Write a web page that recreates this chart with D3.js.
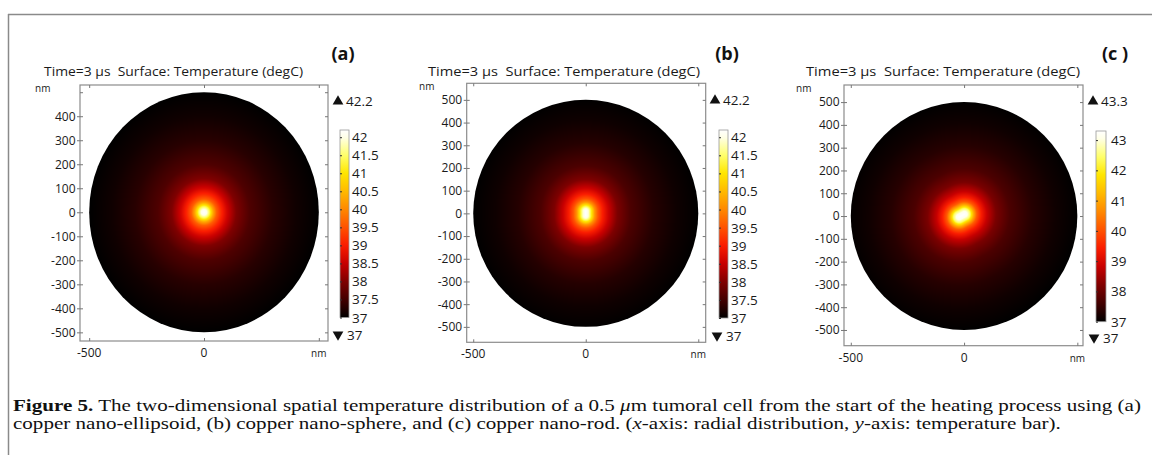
<!DOCTYPE html>
<html>
<head>
<meta charset="UTF-8">
<script src="https://d3js.org/d3.v7.min.js"></script>
<style>
  body { margin: 0; background: #fff; }
  svg text { font-family: "Open Sans", sans-serif; fill: #1a1a1a; }
  .tick { font-size: 12px; }
  .bar { font-size: 13.5px; }
  .small { font-size: 10px; }
  .panel { font-weight: bold; font-size: 18px; fill: #111 !important; }
  .cap { font-family: "Liberation Serif", serif !important; font-size: 16px; fill: #111 !important; }
</style>
</head>
<body>
<svg id="fig" width="1152" height="455"></svg>
<script>
// ---- data ----
const panelNames = ['(a)', '(b)', '(c )'];
const timeLabel = 'Time=3 µs  Surface: Temperature (degC)';
const maxTemps = [42.2, 42.2, 43.3];
const minTemps = [37, 37, 37];
const barTicksAB = [37, 37.5, 38, 38.5, 39, 39.5, 40, 40.5, 41, 41.5, 42];
const barTicksC = [37, 38, 39, 40, 41, 42, 43];
const yTicksA = [500, 400, 300, 200, 100, 0, -100, -200, -300, -400, -500];
const yLabelsA = [400, 300, 200, 100, 0, -100, -200, -300, -400, -500];
const yTicksBC = [500, 400, 300, 200, 100, 0, -100, -200, -300, -400, -500];
const xTicks = [-500, 0, 500];
const cellRadius = 500; // nm

// temperature (degC) against distance (nm) from the heat source
const profileDist = [0, 12, 25, 40, 55, 75, 100, 140, 200, 300, 400, 500];
const profileA = [42.2, 42.0, 41.3, 40.3, 39.6, 39.1, 38.6, 38.0, 37.6, 37.3, 37.12, 37.0];
const profileB = [42.2, 41.9, 41.1, 40.1, 39.5, 39.0, 38.55, 37.98, 37.58, 37.28, 37.11, 37.0];
const profileC = [43.3, 43.1, 42.4, 41.1, 40.1, 39.4, 38.8, 38.15, 37.7, 37.35, 37.14, 37.0];
// heat source: centre (nm), half length (nm), angle (deg)
const sourceX = [0, 0, -10];
const sourceY = [0, 0, 2];
const sourceHalf = [0, 10, 13];
const sourceAngle = [0, 90, 28];

// colour map of the colour bar (fraction of range -> colour)
const cmapStops = [0, 0.096, 0.19, 0.29, 0.385, 0.48, 0.58, 0.67, 0.77, 0.865, 0.96, 1];
const cmapColors = ['#000000', '#420000', '#7e0000', '#c80000', '#fa1c00', '#ff5200', '#ff8a00',
                    '#ffb800', '#ffe600', '#ffff6a', '#ffffe6', '#ffffff'];

// ---- layout of each panel (pixels) ----
const layout = [
  { fx: [80, 328], fy: [341, 85], xd: [-540, 540], yd: [-536, 530],
    title: [44, 259], name: 343, nmY: 44, bar: [340, 349], barY: [317.5, 130],
    up: [338, 101], dn: [338, 335], barText: 352, yTicks: yTicksA, yLabels: yLabelsA, barTicks: barTicksAB },
  { fx: [466.7, 705.7], fy: [342.3, 83.3], xd: [-529, 533], yd: [-568, 573],
    title: [428, 272], name: 727, nmY: 428, bar: [719, 728], barY: [318, 130],
    up: [715, 100], dn: [717, 336], barText: 731, yTicks: yTicksBC, yLabels: yTicksBC, barTicks: barTicksAB },
  { fx: [844, 1083], fy: [345.7, 85], xd: [-530, 525], yd: [-569, 575],
    title: [806, 274], name: 1115, nmY: 805, bar: [1096, 1106], barY: [321.7, 131],
    up: [1093, 101], dn: [1094, 338], barText: 1111, yTicks: yTicksBC, yLabels: yTicksBC, barTicks: barTicksC }
];
const profiles = [profileA, profileB, profileC];

const svg = d3.select('#fig');
const defs = svg.append('defs');

// outer figure frame
svg.append('line').attr('x1', 8).attr('x2', 1152).attr('y1', 14.5).attr('y2', 14.5)
  .attr('stroke', '#8a8a8a').attr('stroke-width', 1.5);
svg.append('line').attr('x1', 8.5).attr('x2', 8.5).attr('y1', 14).attr('y2', 455)
  .attr('stroke', '#8a8a8a').attr('stroke-width', 1.5);

const cmap = d3.scaleLinear().domain(cmapStops).range(cmapColors).clamp(true);

layout.forEach(function(L, i) {
  const x = d3.scaleLinear().domain(L.xd).range(L.fx);
  const y = d3.scaleLinear().domain(L.yd).range(L.fy);
  const tProfile = d3.scaleLinear().domain(profileDist).range(profiles[i]).clamp(true);
  const tFrac = d3.scaleLinear().domain([minTemps[i], maxTemps[i]]).range([0, 1]);
  const g = svg.append('g');

  // heat map image
  const x0 = Math.floor(L.fx[0]), x1 = Math.ceil(L.fx[1]);
  const y0 = Math.floor(L.fy[1]), y1 = Math.ceil(L.fy[0]);
  const w = x1 - x0, h = y1 - y0;
  const canvas = document.createElement('canvas');
  canvas.width = w; canvas.height = h;
  const ctx = canvas.getContext('2d');
  const img = ctx.createImageData(w, h);
  const a = sourceAngle[i] * Math.PI / 180;
  const ux = Math.cos(a), uy = Math.sin(a);
  for (let py = 0; py < h; py++) {
    for (let px = 0; px < w; px++) {
      const nx = x.invert(x0 + px + 0.5) - sourceX[i];
      const ny = y.invert(y0 + py + 0.5) - sourceY[i];
      let s = nx * ux + ny * uy;
      s = Math.max(-sourceHalf[i], Math.min(sourceHalf[i], s));
      const d = Math.hypot(nx - s * ux, ny - s * uy);
      const c = d3.rgb(cmap(tFrac(tProfile(d))));
      const k = (py * w + px) * 4;
      img.data[k] = c.r; img.data[k + 1] = c.g; img.data[k + 2] = c.b; img.data[k + 3] = 255;
    }
  }
  ctx.putImageData(img, 0, 0);
  defs.append('clipPath').attr('id', 'cell' + i)
    .append('ellipse')
    .attr('cx', x(0)).attr('cy', y(0))
    .attr('rx', x(cellRadius) - x(0)).attr('ry', y(0) - y(cellRadius));
  g.append('image').attr('x', x0).attr('y', y0).attr('width', w).attr('height', h)
    .attr('href', canvas.toDataURL()).attr('clip-path', 'url(#cell' + i + ')');

  // plot frame
  g.append('rect').attr('x', L.fx[0]).attr('y', L.fy[1])
    .attr('width', L.fx[1] - L.fx[0]).attr('height', L.fy[0] - L.fy[1])
    .attr('fill', 'none').attr('stroke', '#8c8c8c').attr('stroke-width', 1.2);

  // y axis: labelled ticks outside, all ticks inside on both sides
  const ya = g.append('g').attr('transform', 'translate(' + L.fx[0] + ',0)')
    .call(d3.axisLeft(y).tickValues(L.yLabels).tickSize(3).tickPadding(1.5).tickFormat(d => String(d)));
  ya.select('.domain').remove();
  ya.selectAll('line').attr('stroke', '#777');
  ya.selectAll('text').attr('class', 'tick').attr('fill', '#1a1a1a');
  [L.fx[0], L.fx[1]].forEach(function(px, side) {
    g.append('g').attr('transform', 'translate(' + px + ',0)')
      .call((side ? d3.axisLeft(y) : d3.axisRight(y)).tickValues(L.yTicks).tickSize(3).tickFormat(''))
      .call(s => s.select('.domain').remove())
      .selectAll('line').attr('stroke', '#777');
  });

  // x axis
  const xa = g.append('g').attr('transform', 'translate(0,' + L.fy[0] + ')')
    .call(d3.axisTop(x).tickValues(xTicks).tickSize(3).tickFormat(''));
  xa.select('.domain').remove();
  xa.selectAll('line').attr('stroke', '#777');
  g.append('g').attr('transform', 'translate(0,' + L.fy[1] + ')')
    .call(d3.axisBottom(x).tickValues(xTicks).tickSize(3).tickFormat(''))
    .call(s => s.select('.domain').remove())
    .selectAll('line').attr('stroke', '#777');
  g.selectAll('.xlab').data(xTicks).join('text')
    .attr('class', d => d === 500 ? 'small' : 'tick')
    .attr('x', d => x(d)).attr('y', L.fy[0] + 16)
    .attr('text-anchor', 'middle')
    .text(d => d === 500 ? 'nm' : String(d));
  g.append('text').attr('class', 'small').attr('x', L.nmY - 9).attr('y', L.fy[1] + 7)
    .text('nm');

  // title and panel name
  g.append('text').attr('x', L.title[0]).attr('y', 76).style('font-size', '12px')
    .style('white-space', 'pre')
    .attr('textLength', L.title[1]).attr('lengthAdjust', 'spacingAndGlyphs')
    .text(timeLabel);
  g.append('text').attr('class', 'panel').attr('x', L.name).attr('y', 59.5)
    .attr('text-anchor', 'middle').text(panelNames[i]);

  // colour bar
  const cb = d3.scaleLinear().domain([minTemps[i], maxTemps[i]]).range(L.barY);
  const gid = 'grad' + i;
  const grad = defs.append('linearGradient').attr('id', gid)
    .attr('x1', 0).attr('x2', 0).attr('y1', 1).attr('y2', 0);
  grad.selectAll('stop').data(cmapStops).join('stop')
    .attr('offset', d => d).attr('stop-color', (d, j) => cmapColors[j]);
  g.append('rect').attr('x', L.bar[0]).attr('y', L.barY[1])
    .attr('width', L.bar[1] - L.bar[0]).attr('height', L.barY[0] - L.barY[1])
    .attr('fill', 'url(#' + gid + ')').attr('stroke', '#999').attr('stroke-width', 0.8);
  g.append('g').attr('transform', 'translate(' + L.bar[0] + ',0)')
    .call(d3.axisRight(cb).tickValues(L.barTicks).tickSize(2).tickFormat(''))
    .call(s => s.select('.domain').remove())
    .selectAll('line').attr('stroke', '#333');
  g.selectAll('.blab').data(L.barTicks).join('text').attr('class', 'bar')
    .attr('x', L.barText).attr('y', d => cb(d) + 5).text(d => d);

  // max / min markers
  const tri = d3.symbol().type(d3.symbolTriangle).size(50);
  g.append('path').attr('d', tri()).attr('fill', '#111')
    .attr('transform', 'translate(' + L.up[0] + ',' + (L.up[1] + 0.5) + ')');
  g.append('text').attr('class', 'bar').attr('x', L.up[0] + 8).attr('y', L.up[1] + 5)
    .text(maxTemps[i]);
  g.append('path').attr('d', tri()).attr('fill', '#111')
    .attr('transform', 'translate(' + L.dn[0] + ',' + (L.dn[1] - 0.5) + ') rotate(180)');
  g.append('text').attr('class', 'bar').attr('x', L.dn[0] + 9).attr('y', L.dn[1] + 5)
    .text(minTemps[i]);
});

// caption
const cap = svg.append('g');
const line1 = cap.append('text').attr('class', 'cap').attr('x', 0).attr('y', 411.5);
line1.append('tspan').attr('font-weight', 'bold').text('Figure 5.');
line1.append('tspan').text(' The two-dimensional spatial temperature distribution of a 0.5 ');
line1.append('tspan').attr('font-style', 'italic').text('μ');
line1.append('tspan').text('m tumoral cell from the start of the heating process using (a)');
const line2 = cap.append('text').attr('class', 'cap').attr('x', 0).attr('y', 429.5);
line2.append('tspan').text('copper nano-ellipsoid, (b) copper nano-sphere, and (c) copper nano-rod. (');
line2.append('tspan').attr('font-style', 'italic').text('x');
line2.append('tspan').text('-axis: radial distribution, ');
line2.append('tspan').attr('font-style', 'italic').text('y');
line2.append('tspan').text('-axis: temperature bar).');
const k = 1129 / line1.node().getComputedTextLength();
cap.attr('transform', 'translate(13,0) scale(' + k + ',1)');
</script>
</body>
</html>
